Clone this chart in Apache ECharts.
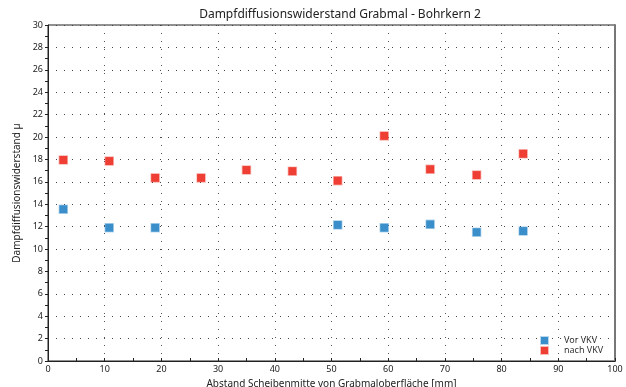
<!DOCTYPE html>
<html lang="de">
<head>
    <meta charset="UTF-8">
    <title>Dampfdiffusionswiderstand</title>
    <script type="text/javascript" src="https://cdn.jsdelivr.net/npm/echarts@6/dist/echarts.min.js"></script>
    <style>
        body { margin: 0; background: #fff; }
    </style>
</head>
<body>
<div id="main" style="width: 626px;height:387px;"></div>

<script type="text/javascript">
    // Abstand Scheibenmitte [mm]
    var abstand = [2.7, 10.8, 18.9, 27.0, 35.0, 43.1, 51.1, 59.3, 67.4, 75.6, 83.8];
    // Vor VKV (null = kein Messwert)
    var vorVKV = [13.55, 11.9, 11.9, null, null, null, 12.15, 11.9, 12.2, 11.5, 11.6];
    // nach VKV
    var nachVKV = [17.95, 17.85, 16.35, 16.35, 17.05, 16.95, 16.1, 20.1, 17.12, 16.6, 18.5];

    function paare(xs, ys) {
        var out = [];
        for (var i = 0; i < xs.length; i++) {
            if (ys[i] != null) out.push([xs[i], ys[i]]);
        }
        return out;
    }

    var font = 'Noto Sans';
    var myChart = echarts.init(document.getElementById('main'));
    var option = {
        animation: false,
        textStyle: { fontFamily: font },
        title: {
            text: 'Dampfdiffusionswiderstand Grabmal - Bohrkern 2',
            left: 335, top: 4, textAlign: 'center',
            textStyle: { fontSize: 12, fontWeight: 'normal', color: '#222', fontFamily: font }
        },
        legend: {
            orient: 'vertical', left: 535, top: 331,
            itemWidth: 7, itemHeight: 7, itemGap: 1,
            textStyle: { fontSize: 9, color: '#333', fontFamily: font, padding: [0, 0, 0, 11] },
            data: ['Vor VKV', 'nach VKV']
        },
        grid: {
            left: 48, right: 11, top: 25, bottom: 26, outerBoundsMode: 'none',
            show: true, borderColor: '#222', borderWidth: 1
        },
        xAxis: [{
            type: 'value', min: 0, max: 100, interval: 10,
            name: 'Abstand Scheibenmitte von Grabmaloberfläche [mm]',
            nameLocation: 'middle', nameGap: 13,
            nameTextStyle: { fontSize: 10, color: '#222' },
            axisLine: { lineStyle: { color: '#222' } },
            axisTick: { inside: true, length: 3, lineStyle: { color: '#222' } },
            minorTick: { show: true, splitNumber: 2, length: 3, lineStyle: { color: '#222' } },
            axisLabel: { fontSize: 9, color: '#222', margin: 4 },
            splitLine: { show: true, lineStyle: { color: '#555', type: [1, 7] } }
        }],
        yAxis: [{
            type: 'value', min: 0, max: 30, interval: 2,
            name: 'Dampfdiffusionswiderstand µ',
            nameLocation: 'middle', nameGap: 26,
            nameTextStyle: { fontSize: 10, color: '#222' },
            axisLine: { show: true, lineStyle: { color: '#222' } },
            axisTick: { show: true, length: 3, lineStyle: { color: '#222' } },
            minorTick: { show: true, splitNumber: 2, length: 3, lineStyle: { color: '#222' } },
            axisLabel: { fontSize: 9, color: '#222', margin: 5 },
            splitLine: { show: true, lineStyle: { color: '#444', type: [1, 7] } }
        }, {
            type: 'value', min: 0, max: 30, position: 'right',
            axisLine: { show: true, lineStyle: { color: '#777', width: 2 } },
            axisTick: { show: false }, axisLabel: { show: false }, splitLine: { show: false }
        }],
        series: [{
            name: 'Vor VKV',
            type: 'scatter',
            symbol: 'rect', symbolSize: 8,
            itemStyle: { color: '#3a8fcb', borderColor: 'rgba(58,143,203,0.35)', borderWidth: 1.5, opacity: 1 },
            data: paare(abstand, vorVKV)
        }, {
            name: 'nach VKV',
            type: 'scatter',
            symbol: 'rect', symbolSize: 8,
            itemStyle: { color: '#ef3e33', borderColor: 'rgba(239,62,51,0.35)', borderWidth: 1.5, opacity: 1 },
            data: paare(abstand, nachVKV)
        }]
    };
    myChart.setOption(option);
</script>
</body>
</html>
